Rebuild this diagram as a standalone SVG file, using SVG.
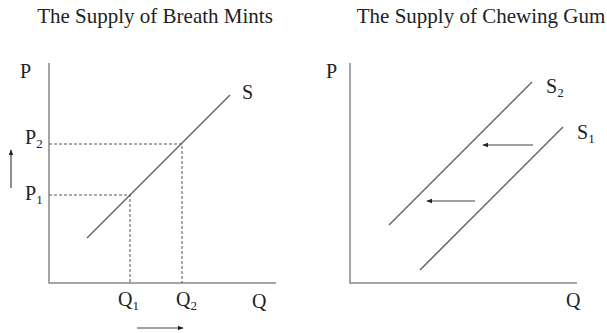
<svg xmlns="http://www.w3.org/2000/svg" width="607" height="333" viewBox="0 0 607 333">
<defs>
<marker id="ah" viewBox="0 0 10 10" refX="9" refY="5" markerWidth="6" markerHeight="6" orient="auto" markerUnits="userSpaceOnUse">
<path d="M0,1 L10,5 L0,9 z" fill="#222"/>
</marker>
</defs>
<style>
text{font-family:"Liberation Serif","Times New Roman",serif;fill:#222}
.title{font-size:21px}
.lab{font-size:20px}
.sub{font-size:13px}
.axis{stroke:#888;stroke-width:1.5;fill:none}
.curve{stroke:#666;stroke-width:1.5;fill:none}
.dash{stroke:#555;stroke-width:1;stroke-dasharray:3,2;fill:none}
.arr{stroke:#444;stroke-width:1.2;fill:none;marker-end:url(#ah)}
</style>
<rect width="607" height="333" fill="#fff"/>
<g id="left-panel">
<text class="title" x="155" y="23" text-anchor="middle">The Supply of Breath Mints</text>
<g id="left-axes">
<path class="axis" d="M49,63 V283 H276"/>
<text class="lab" x="20" y="78">P</text>
<text class="lab" x="252" y="308">Q</text>
</g>
<g id="curve-S">
<path class="curve" d="M87,238 L230,95"/>
<text class="lab" x="242" y="99">S</text>
</g>
<g id="P2"><text class="lab" x="25" y="144">P<tspan class="sub" dy="4">2</tspan></text></g>
<g id="P1"><text class="lab" x="25" y="200">P<tspan class="sub" dy="4">1</tspan></text></g>
<g id="Q1"><text class="lab" x="118" y="306">Q<tspan class="sub" dy="4">1</tspan></text></g>
<g id="Q2"><text class="lab" x="176" y="306">Q<tspan class="sub" dy="4">2</tspan></text></g>
</g>
<g id="right-panel">
<text class="title" x="481" y="23" text-anchor="middle">The Supply of Chewing Gum</text>
<g id="right-axes">
<path class="axis" d="M350,63 V283 H577"/>
<text class="lab" x="326" y="78">P</text>
<text class="lab" x="566" y="307">Q</text>
</g>
<g id="curve-S2">
<path class="curve" d="M389,225 L532,82"/>
<text class="lab" x="546" y="93">S<tspan class="sub" dy="4">2</tspan></text>
</g>
<g id="curve-S1">
<path class="curve" d="M420,270 L563,127"/>
<text class="lab" x="577" y="139">S<tspan class="sub" dy="4">1</tspan></text>
</g>
</g>
<g id="connectors">
<path class="dash" d="M49,144 H182 V283"/>
<path class="dash" d="M49,195 H130 V283"/>
<path class="arr" d="M11,188 V150"/>
<path class="arr" d="M137,328 H183"/>
<path class="arr" d="M533,145 H483"/>
<path class="arr" d="M475,201 H427"/>
</g>
</svg>
